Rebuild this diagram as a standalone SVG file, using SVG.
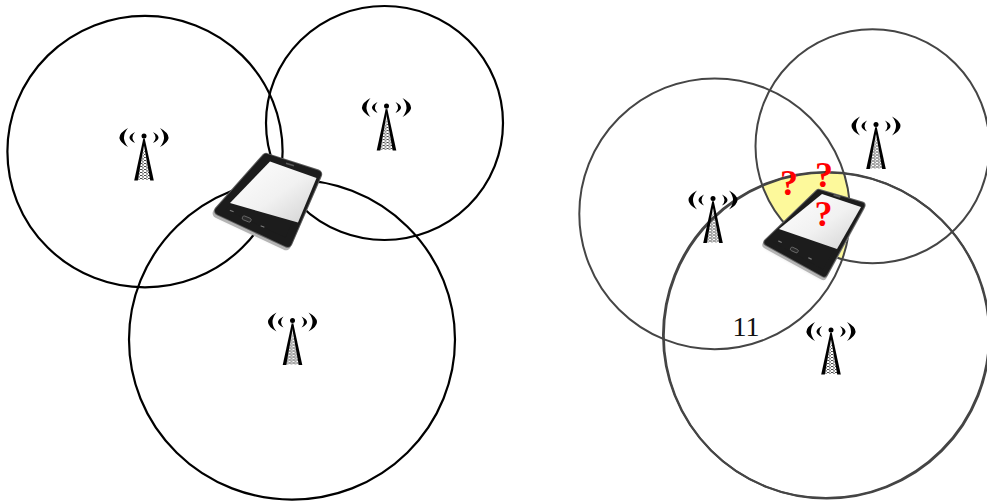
<svg xmlns="http://www.w3.org/2000/svg" xmlns:xlink="http://www.w3.org/1999/xlink" width="987" height="501" viewBox="0 0 987 501">
  <defs>
    <style>
      .range-a { fill: none; stroke: #000; stroke-width: 2.2; }
      .range-b { fill: none; stroke: #454545; stroke-width: 2; }
      .q { font-family: "Liberation Serif", "Times New Roman", serif; font-weight: bold; font-size: 36px; fill: #ff0000; text-anchor: middle; }
      .num { font-family: "Liberation Serif", "Times New Roman", serif; font-size: 28px; fill: #111; text-anchor: middle; }
      .shadow { fill: #000; opacity: 0.28; filter: url(#soft); }
      .silver { fill: #b4b4b4; stroke: #b4b4b4; stroke-linejoin: round; }
      .rim { fill: #5e5e5e; stroke: #5e5e5e; stroke-linejoin: round; }
      .body { fill: #1c1c1c; stroke: #1c1c1c; stroke-linejoin: round; }
      .screen { fill: url(#screenGlow); }
      .key { fill: #2a2a2a; stroke: #707070; stroke-width: 0.8; }
      .dash { stroke: #7a7a7a; stroke-width: 1.2; stroke-linecap: round; }
      .speaker { stroke: #595959; stroke-width: 1.6; stroke-linecap: round; }
    </style>
    <filter id="soft" x="-20%" y="-20%" width="140%" height="140%">
      <feGaussianBlur stdDeviation="2"/>
    </filter>
    <linearGradient id="screenGlow" x1="0" y1="0" x2="1" y2="1">
      <stop offset="0" stop-color="#ffffff"/>
      <stop offset="0.55" stop-color="#f1f1f1"/>
      <stop offset="1" stop-color="#d2d2d2"/>
    </linearGradient>
    <pattern id="lattice" width="4" height="3" patternUnits="userSpaceOnUse">
      <rect x="0" y="0" width="2.4" height="0.9" fill="#333"/>
      <rect x="2" y="1.5" width="2.4" height="0.9" fill="#333"/>
    </pattern>
    <!-- radio mast with signal waves; origin = the antenna tip -->
    <g id="tower" fill="#000">
      <circle cx="0" cy="0" r="2.5"/>
      <path d="M-16,-8 Q-33,1.5 -16,11 Q-24,1.5 -16,-8 Z"/>
      <path d="M16,-8 Q33,1.5 16,11 Q24,1.5 16,-8 Z"/>
      <path d="M-9,-4 Q-20,1.5 -9,7 Q-14,1.5 -9,-4 Z"/>
      <path d="M9,-4 Q20,1.5 9,7 Q14,1.5 9,-4 Z"/>
      <polygon points="0,12 -6.5,44 6.5,44" fill="url(#lattice)"/>
      <path d="M-0.6,2 L-9.8,44.5 L-6.2,44.5 L0.8,5 Z"/>
      <path d="M0.6,2 L9.8,44.5 L6.2,44.5 L-0.8,5 Z"/>
    </g>
    <clipPath id="inD"><circle cx="714.7" cy="213.8" r="135.4"/></clipPath>
    <clipPath id="inE"><circle cx="872.5" cy="146.2" r="117"/></clipPath>
  </defs>

  <rect width="987" height="501" fill="#fff"/>

  <!-- overlap of the three ranges (right scene) -->
  <g id="overlap" clip-path="url(#inD)">
    <circle cx="826" cy="335" r="163" fill="#fdf99b" clip-path="url(#inE)"/>
  </g>

  <!-- coverage ranges -->
  <g id="ranges">
    <ellipse class="range-a" cx="145" cy="151.6" rx="137.6" ry="135.7"/>
    <ellipse class="range-a" cx="384.5" cy="123" rx="118.5" ry="117"/>
    <ellipse class="range-a" cx="292" cy="339.6" rx="163" ry="160"/>
    <circle class="range-b" cx="714.7" cy="213.8" r="135.4"/>
    <circle class="range-b" cx="872.5" cy="146.2" r="117"/>
    <circle class="range-b" cx="826" cy="335" r="163"/>
    <circle class="range-b" cx="826.8" cy="335.6" r="163" stroke-width="1.2" stroke="#5a5a5a"/>
  </g>

  <!-- base stations -->
  <g id="station-a1"><use xlink:href="#tower" x="144" y="136"/></g>
  <g id="station-a2"><use xlink:href="#tower" x="386.5" y="106"/></g>
  <g id="station-a3"><use xlink:href="#tower" x="292.5" y="320.5"/></g>
  <g id="station-b1"><use xlink:href="#tower" x="713" y="198.5"/></g>
  <g id="station-b2"><use xlink:href="#tower" x="876" y="124.5"/></g>
  <g id="station-b3"><use xlink:href="#tower" x="831" y="330"/></g>

  <!-- handset, left scene -->
  <g id="phone-a">
    <polygon class="shadow" points="264.2,162.9 315.2,179.2 285.5,247.8 217.1,215.8"/>
    <polygon class="silver" stroke-width="10" points="264.7,160.4 315.7,176.7 286,245.3 217.6,213.3"/>
    <polygon class="rim" stroke-width="10" points="266.2,157.9 317.2,174.2 287.5,242.8 219.1,210.8"/>
    <polygon class="body" stroke-width="8" points="266.2,157.9 317.2,174.2 287.5,242.8 219.1,210.8"/>
    <polygon class="screen" points="270,161.5 316.5,178 298,222.5 230,203"/>
    <line class="speaker" x1="-3.5" y1="0" x2="3.5" y2="0" transform="translate(290,164.5) rotate(18)"/>
    <rect class="key" x="-4.5" y="-2" width="9" height="4" rx="1.5" transform="translate(246.7,219) rotate(22)"/>
    <line class="dash" x1="-1.5" y1="0" x2="1.5" y2="0" transform="translate(231.7,211) rotate(22)"/>
    <line class="dash" x1="-1.5" y1="0" x2="1.5" y2="0" transform="translate(262.5,226.5) rotate(22)"/>
  </g>

  <!-- handset, right scene -->
  <g id="phone-b">
    <polygon class="shadow" points="816.7,197.3 859.5,209.9 822.1,278 765.4,246.8"/>
    <polygon class="silver" stroke-width="8" points="817.7,195.3 860.5,207.9 823.1,276 766.4,244.8"/>
    <polygon class="rim" stroke-width="8" points="818.7,192.8 861.5,205.4 824.1,273.5 767.4,242.3"/>
    <polygon class="body" stroke-width="6" points="818.7,192.8 861.5,205.4 824.1,273.5 767.4,242.3"/>
    <polygon class="screen" points="822,194 861,207 837,249 779,229"/>
    <line class="speaker" x1="-3" y1="0" x2="3" y2="0" transform="translate(837,196) rotate(17)"/>
    <rect class="key" x="-4" y="-1.8" width="8" height="3.6" rx="1.4" transform="translate(794.3,250) rotate(25)"/>
    <line class="dash" x1="-1.4" y1="0" x2="1.4" y2="0" transform="translate(780,241.7) rotate(25)"/>
    <line class="dash" x1="-1.4" y1="0" x2="1.4" y2="0" transform="translate(810,258.5) rotate(25)"/>
  </g>

  <!-- uncertainty marks and label -->
  <g id="marks">
    <text class="q" x="789" y="195">?</text>
    <text class="q" x="824" y="186.5">?</text>
    <text class="q" x="823.5" y="225.5">?</text>
  </g>
  <g id="label-11">
    <text class="num" x="746" y="336">11</text>
  </g>
</svg>
